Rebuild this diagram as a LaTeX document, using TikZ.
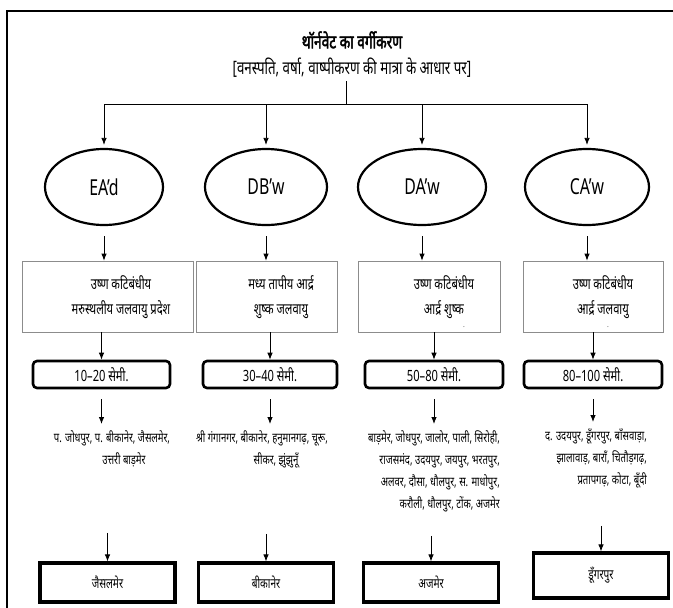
\documentclass[tikz,border=0pt]{standalone}
\usepackage{fontspec}
\setmainfont[Script=Devanagari,FakeStretch=0.72]{Noto Sans}
\newfontfamily\titulofont[Script=Devanagari,FakeStretch=0.72,FakeBold=2.2]{Noto Sans}
\usetikzlibrary{arrows.meta,shapes.geometric}

\begin{document}
\begin{tikzpicture}[x=1pt,y=-1pt,>={Latex[length=7pt,width=5.5pt]},line width=0.8pt,
        tipo/.style={ellipse,draw=black,line width=2.2pt,inner sep=0pt,minimum height=76pt,
          font=\fontsize{22}{26}\selectfont},
        caja/.style={rectangle,draw=black!45,line width=0.8pt,minimum height=71pt},
        texto/.style={align=center,font=\fontsize{15.5}{25}\selectfont},
        rango/.style={rectangle,rounded corners=4pt,draw=black,line width=2.6pt,
          minimum height=27pt,font=\fontsize{15.5}{17}\selectfont},
        lista/.style={anchor=north,font=\fontsize{13.2}{22}\selectfont},
        ciudad/.style={rectangle,draw=black,line width=3.2pt,minimum width=135pt,
          font=\fontsize{14}{16}\selectfont}]
      \useasboundingbox (0,0) rectangle (673,608);
      % frame
      \draw[line width=2pt] (7,608) -- (7,11) -- (673,11);
      % heading
      \node (titulo) at (352,40) {\fontsize{19}{22}\titulofont थॉर्नवेट का वर्गीकरण};
      \node (base) at (352,68) {\fontsize{18.5}{21}\selectfont [वनस्पति, वर्षा, वाष्पीकरण की मात्रा के आधार पर]};
      \coordinate (nudo) at (346,104);
      % climate types
      \node [tipo,minimum width=118pt] (e1) at (104,187) {EA’d};
      \node [tipo,minimum width=122pt] (e2) at (266,187) {DB’w};
      \node [tipo,minimum width=128pt] (e3) at (422,187) {DA’w};
      \node [tipo,minimum width=124pt] (e4) at (587,187) {CA’w};
      % description boxes
      \node [caja,minimum width=171pt] (c1) at (107.5,296.5) {};
      \node [caja,minimum width=141pt] (c2) at (266.5,296.5) {};
      \node [caja,minimum width=142pt] (c3) at (429,296.5) {};
      \node [caja,minimum width=140pt] (c4) at (593,296.5) {};
      \node [texto] (t1) at (121,297) {उष्ण कटिबंधीय\\मरुस्थलीय जलवायु प्रदेश};
      \node [texto] (t2) at (281,297) {मध्य तापीय आर्द्र\\शुष्क जलवायु};
      \node [texto] (t3) at (444,297) {उष्ण कटिबंधीय\\आर्द्र शुष्क};
      \node [texto] (t4) at (603,297) {उष्ण कटिबंधीय\\आर्द्र जलवायु};
      \node [font=\fontsize{7}{7}\selectfont,inner sep=0pt] (p3) at (464,327) {.};
      \node [font=\fontsize{7}{7}\selectfont,inner sep=0pt] (p4) at (608,327) {.};
      % rainfall
      \node [rango,minimum width=137pt] (r1) at (101.5,374.5) {10–20 सेमी.};
      \node [rango,minimum width=134pt] (r2) at (270,374.5) {30–40 सेमी.};
      \node [rango,minimum width=138pt] (r3) at (434,374.5) {50–80 सेमी.};
      \node [rango,minimum width=138pt] (r4) at (593,374.5) {80–100 सेमी.};
      % districts
      \node [lista,align=center] (z1) at (112,427) {प. जोधपुर, प. बीकानेर, जैसलमेर,\\\hspace*{24pt}उत्तरी बाड़मेर};
      \node [lista,align=center] (z2) at (262,427) {श्री गंगानगर, बीकानेर, हनुमानगढ़, चूरू,\\\hspace*{28pt}सीकर, झुंझुनूँ};
      \node [lista,align=right] (z3) at (434,427) {बाड़मेर, जोधपुर, जालोर, पाली, सिरोही,\\राजसमंद, उदयपुर, जयपुर, भरतपुर,\\अलवर, दौसा, धौलपुर, स. माधोपुर,\\करौली, धौलपुर, टोंक, अजमेर};
      \node [lista,align=right] (z4) at (596,425) {द. उदयपुर, डूँगरपुर, बाँसवाड़ा,\\झालावाड़, बाराँ, चितौड़गढ़,\\प्रतापगढ़, कोटा, बूँदी};
      % examples
      \node [ciudad,minimum height=39pt] (b1) at (107.5,582.5) {जैसलमेर};
      \node [ciudad,minimum height=39pt] (b2) at (266,582.5) {बीकानेर};
      \node [ciudad,minimum height=39pt] (b3) at (431,582.5) {अजमेर};
      \node [ciudad,minimum height=45pt] (b4) at (601,575.5) {डूँगरपुर};
      % connectors
      \draw (base.south -| nudo) -- (nudo);
      \draw (nudo -| e1) -- (nudo -| e4);
      \path[->]
      (nudo -| e1) edge [shorten >=3pt] (e1)
      (nudo -| e2) edge [shorten >=3pt] (e2)
      (nudo -| e3) edge [shorten >=3pt] (e3)
      (nudo -| e4) edge [shorten >=3pt] (e4)
      (e1.south) edge [shorten <=10pt] (e1.south |- c1.north)
      (e2.south) edge [shorten <=10pt] (e2.south |- c2.north)
      (e3.south) edge [shorten <=10pt] (e3.south |- c3.north)
      (e4.south) edge [shorten <=10pt] (e4.south |- c4.north)
      (r1 |- c1.south) edge (r1.north)
      (r2 |- c2.south) edge (r2.north)
      (r3 |- c3.south) edge (r3.north)
      (r4 |- c4.south) edge (r4.north)
      (r1.south) edge [shorten <=10pt,shorten >=3pt] (r1.south |- z1.north)
      (r2.south) edge [shorten <=10pt,shorten >=3pt] (r2.south |- z2.north)
      (r3.south) edge [shorten <=10pt,shorten >=3pt] (r3.south |- z3.north)
      (r4.south) edge [shorten <=10pt,shorten >=3pt] (r4.south |- z4.north)
      (b1.north |- z1.south) edge [shorten <=62pt] (b1.north)
      (b2.north |- z2.south) edge [shorten <=62pt] (b2.north)
      (b3.north |- z3.south) edge [shorten <=20pt] (b3.north)
      (b4.north |- z4.south) edge [shorten <=34pt] (b4.north);
    \end{tikzpicture}
\end{document}
